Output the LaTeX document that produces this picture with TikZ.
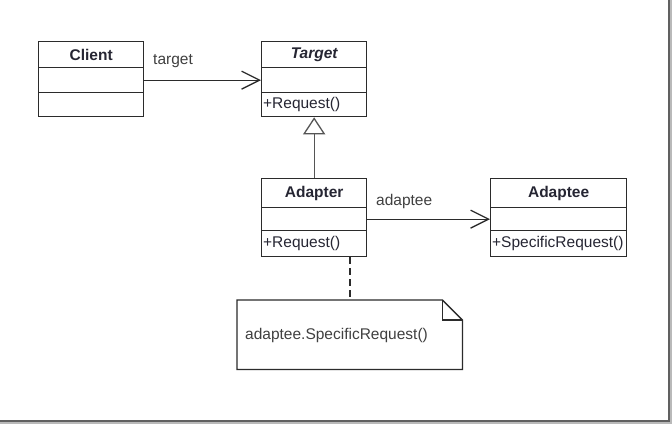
\documentclass[tikz,border=0pt]{standalone}
\usepackage{fontspec}
\setmainfont{Liberation Sans}
\usetikzlibrary{arrows.meta}
\definecolor{lc}{HTML}{2B2B2B}
\definecolor{tc}{HTML}{262633}
\tikzset{
  cls/.style={draw=lc, line width=1.3pt, inner sep=0pt, anchor=north west,
    font=\fontsize{15.5}{18}\selectfont, text=tc},
  hdr/.style={cls, font=\fontsize{15.5}{18}\selectfont\bfseries},
  mth/.style={cls, align=left, inner xsep=1.5pt},
  lbl/.style={inner sep=0pt, anchor=base west, font=\fontsize{15.5}{18}\selectfont, text=black!75},
  assoc/.style={draw=lc, line width=1.3pt, -{Straight Barb[length=18pt,width=18pt,line width=1.3pt]}},
  gen/.style={draw=lc!80, line width=1.3pt, -{Triangle[open,length=17pt,width=22pt,line width=1.3pt]}},
}
\begin{document}
\begin{tikzpicture}[x=1pt,y=-1pt]
\useasboundingbox (0,0) rectangle (672,424);
\fill[white] (0,0) rectangle (672,424);
% frame shadow
\fill[gray!55] (668,0) rectangle (672,424);
\fill[gray!55] (0,420) rectangle (672,424);
\draw[gray!75!black, line width=1.4pt] (669,0) -- (669,421) -- (0,421);

% Client
\node[hdr, minimum width=105pt, minimum height=26pt] (client) at (38,41) {Client};
\node[cls, minimum width=105pt, minimum height=25pt] (client-a) at (38,67) {};
\node[cls, minimum width=105pt, minimum height=24pt] (client-m) at (38,92) {};

% Target
\node[hdr, minimum width=105pt, minimum height=26pt, font=\fontsize{15.5}{18}\selectfont\bfseries\itshape] (target) at (261,41) {Target};
\node[cls, minimum width=105pt, minimum height=25pt] (target-a) at (261,67) {};
\node[mth, minimum width=105pt, minimum height=24pt, text width=102pt] (target-m) at (261,92) {+Request()};

% Adapter
\node[hdr, minimum width=105pt, minimum height=29pt] (adapter) at (261,178) {Adapter};
\node[cls, minimum width=105pt, minimum height=23pt] (adapter-a) at (261,207) {};
\node[mth, minimum width=105pt, minimum height=26pt, text width=102pt] (adapter-m) at (261,230) {+Request()};

% Adaptee
\node[hdr, minimum width=136pt, minimum height=29pt] (adaptee) at (490,178) {Adaptee};
\node[cls, minimum width=136pt, minimum height=23pt] (adaptee-a) at (490,207) {};
\node[mth, minimum width=136pt, minimum height=26pt, text width=133pt] (adaptee-m) at (490,230) {+SpecificRequest()};

% associations
\draw[assoc] (client-a.east) -- (target-a.west);
\node[lbl] (lbl-target) at (153,64) {target};
\draw[assoc] (adapter-a.east) -- (adaptee-a.west);
\node[lbl] (lbl-adaptee) at (376,205) {adaptee};

% generalization
\draw[gen] (adapter.north) -- (target-m.south);

% note
\node[inner sep=0pt, minimum width=225pt, minimum height=69pt, anchor=north west] (note) at (237,300) {};
\draw[lc, line width=1.3pt] (note.south west) -- (note.north west) -- ([xshift=-20pt]note.north east) -- ([yshift=-20pt]note.north east) -- (note.south east) -- cycle;
\draw[lc, line width=1.3pt] ([xshift=-20pt]note.north east) -- ([xshift=-20pt,yshift=-20pt]note.north east) -- ([yshift=-20pt]note.north east);
\node[lbl] (note-text) at (245,339) {adaptee.SpecificRequest()};
\coordinate (dashx) at (350,0);
\draw[lc, line width=1.3pt, dash pattern=on 7pt off 4pt] (adapter-m.south -| dashx) -- (note.north -| dashx);
\end{tikzpicture}
\end{document}
